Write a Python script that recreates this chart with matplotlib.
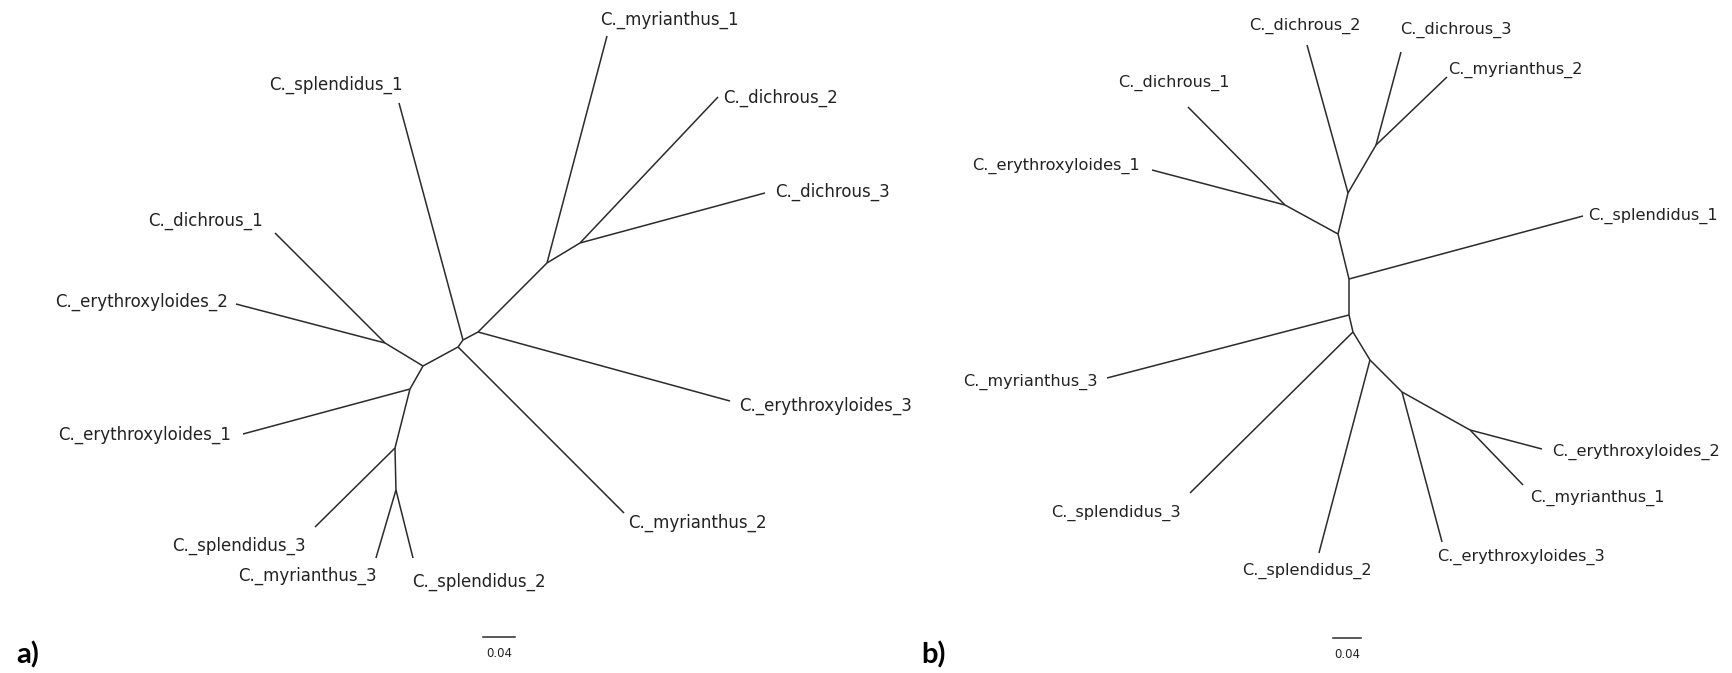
import matplotlib
matplotlib.use("Agg")
import matplotlib.pyplot as plt

# ---- tree a) : positions in substitutions/site (layout of the unrooted tree) ----
a_inner = ["n1", "n2", "n3", "n4", "n5", "n6", "n7", "n8", "n9", "n10"]
a_inner_x = [-0.0475, 0.0, -0.0163, -0.0350, -0.0338, 0.0500, 0.0688, 0.1550, 0.1963, 0.0438]
a_inner_y = [0.0288, 0.0, -0.0288, -0.1025, -0.1550, 0.0325, 0.0425, 0.1288, 0.1538, 0.0238]

a_leaves = ["C._splendidus_1", "C._dichrous_1", "C._erythroxyloides_2", "C._erythroxyloides_1",
            "C._splendidus_3", "C._myrianthus_3", "C._splendidus_2", "C._myrianthus_2",
            "C._erythroxyloides_3", "C._dichrous_3", "C._dichrous_2", "C._myrianthus_1"]
a_leaf_x = [-0.0300, -0.1850, -0.2338, -0.2250, -0.1350, -0.0588, -0.0125, 0.2513,
            0.3838, 0.4275, 0.3688, 0.2300]
a_leaf_y = [0.3288, 0.1663, 0.0775, -0.0850, -0.2013, -0.2400, -0.2400, -0.1838,
            -0.0438, 0.2163, 0.3363, 0.4125]

a_edges = [("n1", "C._dichrous_1"), ("n1", "C._erythroxyloides_2"), ("n1", "n2"),
           ("n2", "n3"), ("n3", "C._erythroxyloides_1"), ("n3", "n4"),
           ("n4", "C._splendidus_3"), ("n4", "n5"), ("n5", "C._myrianthus_3"),
           ("n5", "C._splendidus_2"), ("n2", "n10"), ("n10", "C._myrianthus_2"),
           ("n10", "n6"), ("n6", "C._splendidus_1"), ("n6", "n7"),
           ("n7", "C._erythroxyloides_3"), ("n7", "n8"), ("n8", "C._myrianthus_1"),
           ("n8", "n9"), ("n9", "C._dichrous_2"), ("n9", "C._dichrous_3")]

# ---- tree b) ----
b_inner = ["n1", "n2", "n3", "n4", "n5", "n6", "n7", "n8", "n9", "n10"]
b_inner_x = [-0.0914, -0.0157, -0.0014, 0.0386, 0.0, 0.0, 0.0057, 0.0300, 0.0757, 0.1729]
b_inner_y = [0.1057, 0.0643, 0.1229, 0.1914, 0.0, -0.0514, -0.0757, -0.1157, -0.1614, -0.2157]

b_leaves = ["C._dichrous_1", "C._erythroxyloides_1", "C._dichrous_2", "C._dichrous_3",
            "C._myrianthus_2", "C._splendidus_1", "C._myrianthus_3", "C._splendidus_3",
            "C._splendidus_2", "C._erythroxyloides_3", "C._erythroxyloides_2", "C._myrianthus_1"]
b_leaf_x = [-0.2300, -0.2814, -0.0600, 0.0743, 0.1400, 0.3343, -0.3457, -0.2271,
            -0.0429, 0.1329, 0.2757, 0.2486]
b_leaf_y = [0.2457, 0.1557, 0.3343, 0.3243, 0.2886, 0.0900, -0.1414, -0.3057,
            -0.3914, -0.3757, -0.2429, -0.2943]

b_edges = [("n1", "C._dichrous_1"), ("n1", "C._erythroxyloides_1"), ("n1", "n2"),
           ("n2", "n3"), ("n3", "C._dichrous_2"), ("n3", "n4"),
           ("n4", "C._dichrous_3"), ("n4", "C._myrianthus_2"), ("n2", "n5"),
           ("n5", "C._splendidus_1"), ("n5", "n6"), ("n6", "C._myrianthus_3"),
           ("n6", "n7"), ("n7", "C._splendidus_3"), ("n7", "n8"),
           ("n8", "C._splendidus_2"), ("n8", "n9"), ("n9", "C._erythroxyloides_3"),
           ("n9", "n10"), ("n10", "C._erythroxyloides_2"), ("n10", "C._myrianthus_1")]

scale_len = 0.04

# label placement (pixel offsets from tip, alignment)
a_label_pos = {"C._splendidus_1": (4, 18, "right"), "C._dichrous_1": (-12, 12, "right"),
               "C._erythroxyloides_2": (-8, 2, "right"), "C._erythroxyloides_1": (-12, -1, "right"),
               "C._splendidus_3": (-9, -19, "right"), "C._myrianthus_3": (1, -18, "right"),
               "C._splendidus_2": (-1, -24, "left"), "C._myrianthus_2": (4, -10, "left"),
               "C._erythroxyloides_3": (9, -5, "left"), "C._dichrous_3": (10, 1, "left"),
               "C._dichrous_2": (5, -1, "left"), "C._myrianthus_1": (-7, 16, "left")}
b_label_pos = {"C._dichrous_1": (42, 24, "right"), "C._erythroxyloides_1": (-12, 4, "right"),
               "C._dichrous_2": (-2, 19, "center"), "C._dichrous_3": (-1, 22, "left"),
               "C._myrianthus_2": (1, 7, "left"), "C._splendidus_1": (5, 0, "left"),
               "C._myrianthus_3": (-9, -4, "right"), "C._splendidus_3": (-9, -20, "right"),
               "C._splendidus_2": (-12, -18, "center"), "C._erythroxyloides_3": (-5, -15, "left"),
               "C._erythroxyloides_2": (10, -3, "left"), "C._myrianthus_1": (7, -13, "left")}

W, H = 1733, 673
line_col = "#2b2b2b"
text_col = "#222222"


def draw_tree(ax, inner, ix, iy, leaves, lx, ly, edges, label_pos, bar_xy, fsize):
    pos = {}
    for n, x, y in zip(inner, ix, iy):
        pos[n] = (x, y)
    for n, x, y in zip(leaves, lx, ly):
        pos[n] = (x, y)
    for p, c in edges:
        ax.plot([pos[p][0], pos[c][0]], [pos[p][1], pos[c][1]], color=line_col,
                lw=1.1, solid_capstyle="butt")
    for n in leaves:
        dx, dy, ha = label_pos[n]
        ax.annotate(n, pos[n], xytext=(dx, dy), textcoords="offset pixels",
                    ha=ha, va="center", fontsize=fsize, color=text_col,
                    family="DejaVu Sans")
    bx, by = bar_xy
    ax.plot([bx, bx + scale_len], [by, by], color=line_col, lw=1.1)
    ax.annotate("%.2f" % scale_len, (bx + scale_len / 2, by), xytext=(0, -16),
                textcoords="offset pixels", ha="center", va="center",
                fontsize=8.5, color=text_col, family="DejaVu Sans")


def make_axes(fig, left_px, right_px, origin_px, px_per_unit):
    ax = fig.add_axes([left_px / W, 0, (right_px - left_px) / W, 1])
    ox, oy = origin_px
    ax.set_xlim((left_px - ox) / px_per_unit, (right_px - ox) / px_per_unit)
    ax.set_ylim((oy - H) / px_per_unit, oy / px_per_unit)
    ax.axis("off")
    return ax


fig = plt.figure(figsize=(W / 100, H / 100), dpi=100)

ax_a = make_axes(fig, 0, W / 2, (423, 366), 800)
draw_tree(ax_a, a_inner, a_inner_x, a_inner_y, a_leaves, a_leaf_x, a_leaf_y,
          a_edges, a_label_pos, (0.075, -0.3388), 12)

ax_b = make_axes(fig, W / 2, W, (1349, 279), 700)
draw_tree(ax_b, b_inner, b_inner_x, b_inner_y, b_leaves, b_leaf_x, b_leaf_y,
          b_edges, b_label_pos, (-0.0229, -0.5129), 11.6)

fig.text(16 / W, 1 - 655 / H, "a)", fontsize=21, fontweight="bold", family="Lato",
         ha="left", va="center", color="black")
fig.text(921 / W, 1 - 655 / H, "b)", fontsize=21, fontweight="bold", family="Lato",
         ha="left", va="center", color="black")

fig.savefig("out.png", dpi=100, facecolor="white")
